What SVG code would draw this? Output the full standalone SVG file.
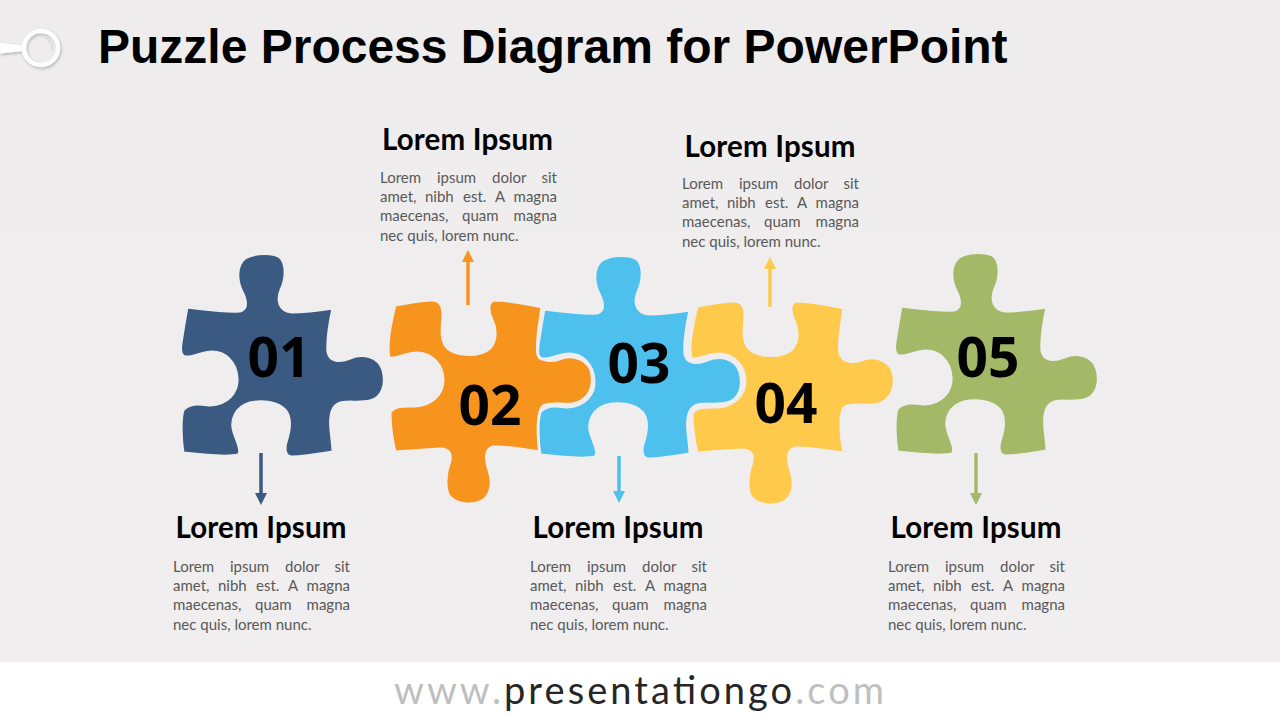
<svg xmlns="http://www.w3.org/2000/svg" width="1280" height="720" viewBox="0 0 1280 720">
  <defs>
    <linearGradient id="bg" x1="0" y1="0" x2="0" y2="1">
      <stop offset="0" stop-color="#EEECED"/>
      <stop offset="1" stop-color="#F0EEEF"/>
    </linearGradient>
    <filter id="shadow" x="-50%" y="-50%" width="200%" height="200%">
      <feDropShadow dx="1" dy="1.5" stdDeviation="1.5" flood-color="#000" flood-opacity="0.25"/>
    </filter>
    <marker id="ah1" viewBox="0 0 12 12" refX="0" refY="6" markerWidth="12" markerHeight="12" markerUnits="userSpaceOnUse" orient="auto"><path d="M0,0 L12,6 L0,12 Z" fill="#3B5A82"/></marker>
    <marker id="ah2" viewBox="0 0 12 12" refX="0" refY="6" markerWidth="12" markerHeight="12" markerUnits="userSpaceOnUse" orient="auto"><path d="M0,0 L12,6 L0,12 Z" fill="#F7941E"/></marker>
    <marker id="ah3" viewBox="0 0 12 12" refX="0" refY="6" markerWidth="12" markerHeight="12" markerUnits="userSpaceOnUse" orient="auto"><path d="M0,0 L12,6 L0,12 Z" fill="#4DC0EE"/></marker>
    <marker id="ah4" viewBox="0 0 12 12" refX="0" refY="6" markerWidth="12" markerHeight="12" markerUnits="userSpaceOnUse" orient="auto"><path d="M0,0 L12,6 L0,12 Z" fill="#FFC94B"/></marker>
    <marker id="ah5" viewBox="0 0 12 12" refX="0" refY="6" markerWidth="12" markerHeight="12" markerUnits="userSpaceOnUse" orient="auto"><path d="M0,0 L12,6 L0,12 Z" fill="#A4B968"/></marker>
    <path id="pieceA" d="M187,307 C205,309 225,312 240,311 C248,309 246,300 242,292 C236,280 236,265 245,258 C255,252 275,252 281,258 C287,265 286,280 281,290 C277,300 279,311 292,312 C305,312 320,310 333,308 C330,322 327,340 328,352 C330,362 340,362 350,358 C362,353 378,355 383,370 C387,385 382,398 370,401 C358,404 345,400 338,404 C330,408 330,420 331,430 C332,440 333,447 333,452 C320,454 305,457 292,457 C285,457 284,450 286,442 C290,430 292,418 285,410 C278,402 262,400 250,403 C236,407 230,420 234,432 C237,442 243,452 238,455 C225,458 200,455 183,453 C181,440 180,420 183,410 C190,402 200,404 210,405 C228,404 238,392 237,378 C236,362 225,352 212,352 C202,352 192,358 185,357 C180,356 180,350 181,343 C183,330 185,318 187,307 Z"/>
    <path id="pieceB" d="M395,305 C408,303 420,300 432,300 C440,300 443,306 443,314 C443,325 440,335 445,345 C452,356 478,358 490,348 C497,340 496,328 492,320 C488,312 487,302 494,300 C510,300 528,304 542,307 C540,322 536,340 538,352 C541,362 552,362 562,358 C575,354 590,360 592,375 C594,392 585,402 572,404 C560,405 550,402 543,406 C537,412 539,430 540,440 C541,446 542,450 542,452 C525,450 505,446 493,447 C484,450 486,460 489,470 C493,482 492,497 480,502 C470,506 455,504 449,496 C444,488 446,472 449,464 C452,455 450,449 440,449 C425,450 408,451 395,452 C392,440 390,425 390,412 C396,405 405,406 415,406 C432,405 443,394 443,380 C443,365 432,354 418,353 C405,353 396,360 389,358 C386,345 390,325 395,305 Z"/>
  </defs>
  <style>
    .piece { stroke: #EFEDEE; stroke-width: 3; stroke-linejoin: round; }
    .num { font-family: "Open Sans", "Liberation Sans", sans-serif; font-weight: 700; font-size: 55px; fill: #000; text-anchor: middle; }
    .head { font-family: Lato, "Liberation Sans", sans-serif; font-weight: 700; font-size: 29.5px; fill: #000; text-anchor: middle; }
    .body { font-family: Lato, "Liberation Sans", sans-serif; font-size: 15px; fill: #595959; }
    .end { text-anchor: end; }
    .arrow { stroke-width: 3.5; fill: none; }
  </style>

  <rect x="0" y="0" width="1280" height="662" fill="url(#bg)"/>
  <rect x="0" y="662" width="1280" height="58" fill="#FFFFFF"/>

  <g id="logo" filter="url(#shadow)">
    <path d="M0,43 L24,45.5 L24,51 L0,53.5 Z" fill="#FFFFFF"/>
    <circle cx="41" cy="48" r="17" fill="none" stroke="#FFFFFF" stroke-width="4.5"/>
  </g>
  <path d="M44,37 A12,12 0 0 1 52,50" fill="none" stroke="#D9D7D8" stroke-width="1.5"/>

  <text id="title" x="98" y="63" font-family="'Liberation Sans', Arial, sans-serif" font-weight="700" font-size="48" fill="#000">Puzzle Process Diagram for PowerPoint</text>

  <g id="piece01">
    <use href="#pieceA" class="piece" fill="#3B5A82"/>
    <text class="num" x="279" y="377">01</text>
  </g>
  <g id="piece05">
    <use href="#pieceA" class="piece" fill="#A4B968" transform="translate(714,-1)"/>
    <text class="num" x="988" y="377">05</text>
  </g>
  <g id="piece02">
    <use href="#pieceB" class="piece" fill="#F7941E"/>
    <text class="num" x="490" y="425">02</text>
  </g>
  <g id="piece03">
    <use href="#pieceA" class="piece" fill="#4DC0EE" transform="translate(357,2)"/>
    <text class="num" x="639" y="383">03</text>
  </g>
  <g id="piece04">
    <use href="#pieceB" class="piece" fill="#FFC94B" transform="translate(302,1)"/>
    <text class="num" x="786" y="423">04</text>
  </g>

  <g id="connectors">
    <line class="arrow" x1="261" y1="453" x2="261" y2="493" stroke="#3B5A82" marker-end="url(#ah1)"/>
    <line class="arrow" x1="468" y1="305" x2="468" y2="262" stroke="#F7941E" marker-end="url(#ah2)"/>
    <line class="arrow" x1="619" y1="456" x2="619" y2="491" stroke="#4DC0EE" marker-end="url(#ah3)"/>
    <line class="arrow" x1="770" y1="307" x2="770" y2="269" stroke="#FFC94B" marker-end="url(#ah4)"/>
    <line class="arrow" x1="976" y1="453" x2="976" y2="493" stroke="#A4B968" marker-end="url(#ah5)"/>
  </g>

  <g id="label02">
    <text class="head" x="467.5" y="150" textLength="171" lengthAdjust="spacing">Lorem Ipsum</text>
    <g transform="translate(380,183)">
      <text class="body" y="0"><tspan x="0">Lorem</tspan><tspan x="57">ipsum</tspan><tspan x="112">dolor</tspan></text>
      <text class="body end" x="177" y="0">sit</text>
      <text class="body" y="19.2"><tspan x="0">amet,</tspan><tspan x="45">nibh</tspan><tspan x="83">est.</tspan><tspan x="115">A</tspan></text>
      <text class="body end" x="177" y="19.2">magna</text>
      <text class="body" y="38.4"><tspan x="0">maecenas,</tspan><tspan x="82">quam</tspan></text>
      <text class="body end" x="177" y="38.4">magna</text>
      <text class="body" x="0" y="57.6">nec quis, lorem nunc.</text>
    </g>
  </g>
  <g id="label04">
    <text class="head" x="770" y="157" textLength="171" lengthAdjust="spacing">Lorem Ipsum</text>
    <g transform="translate(682,189)">
      <text class="body" y="0"><tspan x="0">Lorem</tspan><tspan x="57">ipsum</tspan><tspan x="112">dolor</tspan></text>
      <text class="body end" x="177" y="0">sit</text>
      <text class="body" y="19.2"><tspan x="0">amet,</tspan><tspan x="45">nibh</tspan><tspan x="83">est.</tspan><tspan x="115">A</tspan></text>
      <text class="body end" x="177" y="19.2">magna</text>
      <text class="body" y="38.4"><tspan x="0">maecenas,</tspan><tspan x="82">quam</tspan></text>
      <text class="body end" x="177" y="38.4">magna</text>
      <text class="body" x="0" y="57.6">nec quis, lorem nunc.</text>
    </g>
  </g>
  <g id="label01">
    <text class="head" x="261" y="538" textLength="171" lengthAdjust="spacing">Lorem Ipsum</text>
    <g transform="translate(173,572)">
      <text class="body" y="0"><tspan x="0">Lorem</tspan><tspan x="57">ipsum</tspan><tspan x="112">dolor</tspan></text>
      <text class="body end" x="177" y="0">sit</text>
      <text class="body" y="19.2"><tspan x="0">amet,</tspan><tspan x="45">nibh</tspan><tspan x="83">est.</tspan><tspan x="115">A</tspan></text>
      <text class="body end" x="177" y="19.2">magna</text>
      <text class="body" y="38.4"><tspan x="0">maecenas,</tspan><tspan x="82">quam</tspan></text>
      <text class="body end" x="177" y="38.4">magna</text>
      <text class="body" x="0" y="57.6">nec quis, lorem nunc.</text>
    </g>
  </g>
  <g id="label03">
    <text class="head" x="618" y="538" textLength="171" lengthAdjust="spacing">Lorem Ipsum</text>
    <g transform="translate(530,572)">
      <text class="body" y="0"><tspan x="0">Lorem</tspan><tspan x="57">ipsum</tspan><tspan x="112">dolor</tspan></text>
      <text class="body end" x="177" y="0">sit</text>
      <text class="body" y="19.2"><tspan x="0">amet,</tspan><tspan x="45">nibh</tspan><tspan x="83">est.</tspan><tspan x="115">A</tspan></text>
      <text class="body end" x="177" y="19.2">magna</text>
      <text class="body" y="38.4"><tspan x="0">maecenas,</tspan><tspan x="82">quam</tspan></text>
      <text class="body end" x="177" y="38.4">magna</text>
      <text class="body" x="0" y="57.6">nec quis, lorem nunc.</text>
    </g>
  </g>
  <g id="label05">
    <text class="head" x="976" y="538" textLength="171" lengthAdjust="spacing">Lorem Ipsum</text>
    <g transform="translate(888,572)">
      <text class="body" y="0"><tspan x="0">Lorem</tspan><tspan x="57">ipsum</tspan><tspan x="112">dolor</tspan></text>
      <text class="body end" x="177" y="0">sit</text>
      <text class="body" y="19.2"><tspan x="0">amet,</tspan><tspan x="45">nibh</tspan><tspan x="83">est.</tspan><tspan x="115">A</tspan></text>
      <text class="body end" x="177" y="19.2">magna</text>
      <text class="body" y="38.4"><tspan x="0">maecenas,</tspan><tspan x="82">quam</tspan></text>
      <text class="body end" x="177" y="38.4">magna</text>
      <text class="body" x="0" y="57.6">nec quis, lorem nunc.</text>
    </g>
  </g>

  <text id="footer" x="394" y="704" textLength="490" lengthAdjust="spacing" font-family="Lato, 'Open Sans', sans-serif" font-size="38" fill="#262626"><tspan fill="#BFBFBF">www.</tspan>presentationgo<tspan fill="#BFBFBF">.com</tspan></text>
</svg>
